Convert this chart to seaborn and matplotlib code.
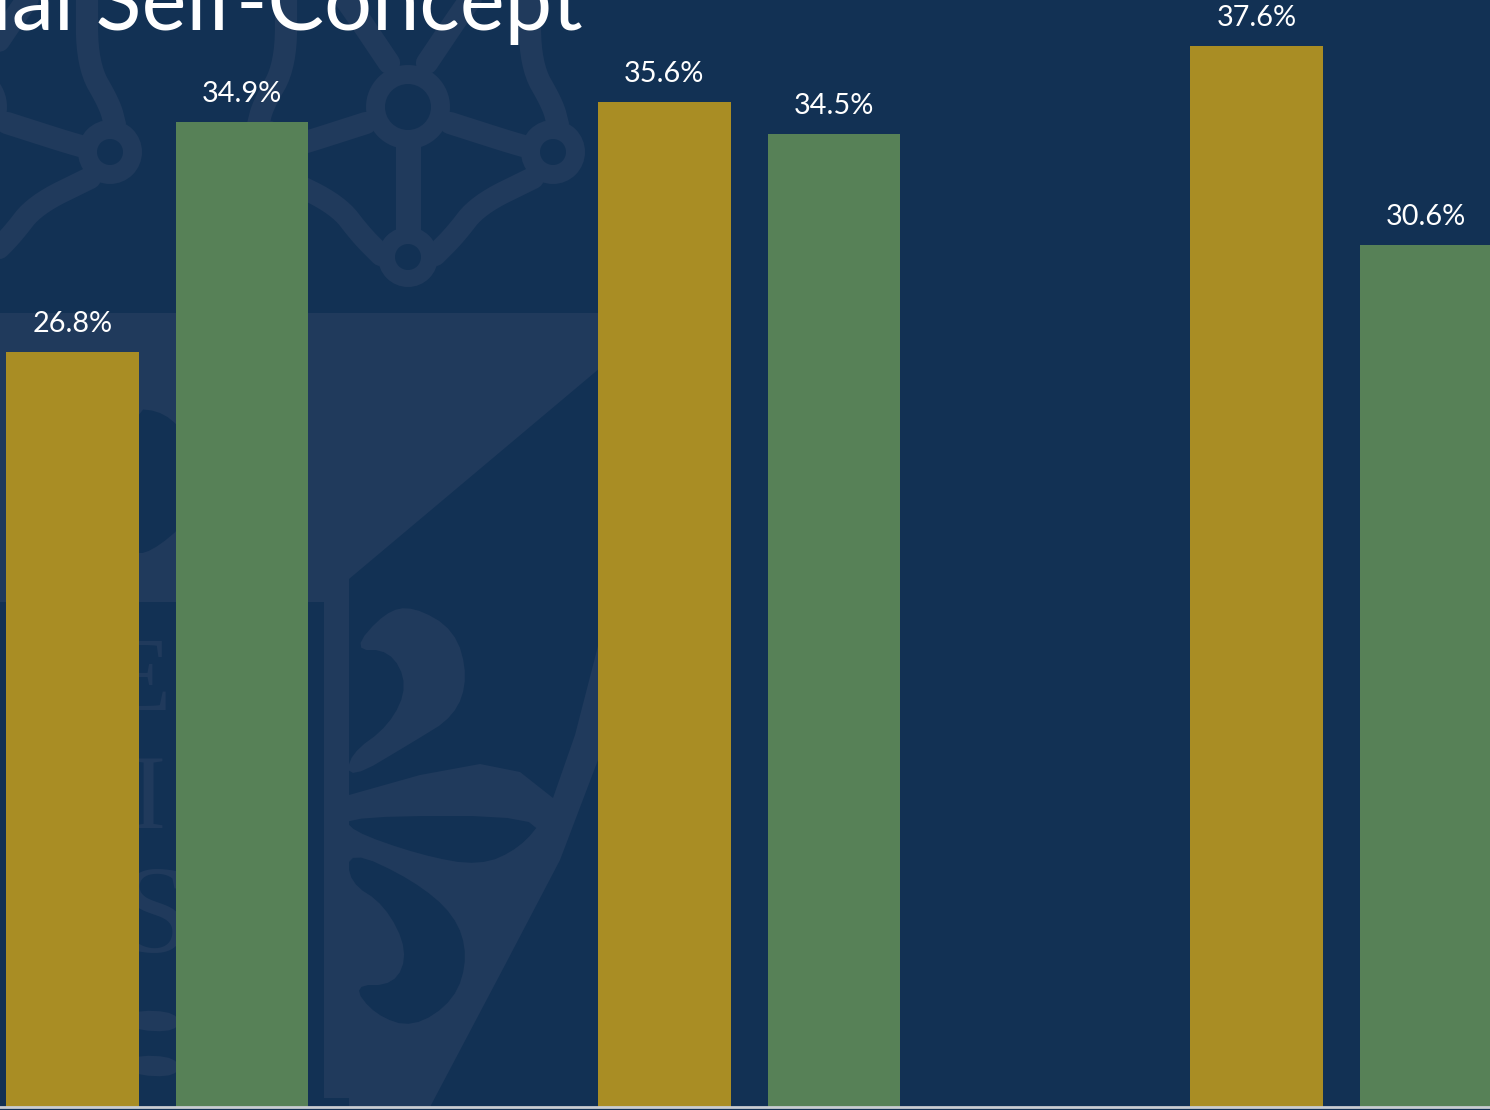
import numpy as np
import pandas as pd
import matplotlib
matplotlib.use("Agg")
import matplotlib.pyplot as plt
from matplotlib.patches import Polygon, Circle
import seaborn as sns

# values
groups = ["Group 1", "Group 2", "Group 3"]
gold_values = [26.76, 35.64, 37.62]
green_values = [34.94, 34.5, 30.56]
title = "Social Self-Concept"

navy = "#123154"
pale = "#203A5C"
gold = "#A98D24"
green = "#578157"

sns.set_theme(style="white")
plt.rcParams["font.family"] = ["Lato", "DejaVu Sans"]

df = pd.DataFrame({
    "group": groups * 2,
    "series": ["gold"] * 3 + ["green"] * 3,
    "pct": gold_values + green_values,
})

fig = plt.figure(figsize=(14.9, 11.1), dpi=100, facecolor=navy)

# backdrop: faded crest, in pixel coords of the picture
bg = fig.add_axes([0, 0, 1, 1], zorder=0)
bg.set_xlim(0, 1490)
bg.set_ylim(1110, 0)
bg.axis("off")


def soften(pts, closed=True, rounds=3):
    # corner cutting so the hand-read outlines are not jagged
    pts = np.array(pts, dtype=float)
    for _ in range(rounds):
        nxt = np.roll(pts, -1, axis=0)
        a = 0.75 * pts + 0.25 * nxt
        b = 0.25 * pts + 0.75 * nxt
        new = np.empty((len(pts) * 2, 2))
        new[0::2] = a
        new[1::2] = b
        if not closed:
            new = np.vstack([pts[0], new[:-2], pts[-1]])
        pts = new
    return pts


def crest(cx):
    for side in (1, -1):
        strokes = [
            [(19, 63), (58, 5), (70, -10)],
            [(42, 123), (117, 147), (135, 150)],
            [(150, 125), (145, 105), (122, 65), (122, -10)],
            [(125, 178), (70, 205), (47, 235), (27, 255)],
        ]
        for s in strokes:
            p = soften(s, closed=False)
            bg.plot(cx + side * p[:, 0], p[:, 1], color=pale, lw=16,
                    solid_capstyle="round", solid_joinstyle="round")
        bg.add_patch(Circle((cx + side * 145, 152), 32, fc=pale, ec="none"))
        bg.add_patch(Circle((cx + side * 145, 152), 13, fc=navy, ec="none", zorder=3))
    bg.plot([cx, cx], [125, 255], color=pale, lw=18)
    bg.add_patch(Circle((cx, 107), 42, fc=pale, ec="none"))
    bg.add_patch(Circle((cx, 107), 23, fc=navy, ec="none", zorder=3))
    bg.add_patch(Circle((cx, 257), 30, fc=pale, ec="none"))
    bg.add_patch(Circle((cx, 257), 13, fc=navy, ec="none", zorder=3))


crest(408)
crest(-35)

band = [(0, 313), (600, 313), (600, 368), (349, 579), (349, 1098), (324, 1098), (324, 602), (0, 602)]
bg.add_patch(Polygon(band, closed=True, fc=pale, ec="none"))
wedge = [(349, 795), (420, 775), (480, 764), (520, 772), (553, 798), (575, 735), (598, 646), (598, 760),
         (560, 860), (505, 965), (430, 1107), (349, 1107)]
bg.add_patch(Polygon(wedge, closed=True, fc=pale, ec="none"))

shapes = [
    ([(349, 816), (546, 816), (520, 848), (480, 866), (420, 855), (349, 830)], navy),
    ([(349, 850), (413, 880), (455, 915), (468, 956), (455, 1000), (413, 1028), (375, 1015),
      (352, 985), (395, 985), (408, 951), (385, 905), (349, 882)], navy),
    ([(352, 650), (385, 612), (413, 606), (455, 630), (468, 677), (455, 716), (413, 742),
      (349, 780), (349, 755), (390, 725), (408, 685), (390, 650)], pale),
    ([(130, 408), (165, 412), (190, 440), (190, 520), (150, 553), (130, 553)], navy),
    ([(130, 1010), (178, 1012), (178, 1032), (130, 1030)], pale),
    ([(130, 1055), (178, 1057), (178, 1077), (130, 1075)], pale),
]
for pts, col in shapes:
    bg.add_patch(Polygon(soften(pts, rounds=2), closed=True, fc=col, ec="none"))
for letter, x, y, size in zip("EIS", (171, 165, 190), (685, 803, 922), (76, 76, 90)):
    bg.text(x, y, letter, color=pale, fontsize=size, family="Liberation Serif",
            ha="right", va="center")

# the chart itself
ax = fig.add_axes([0, 3 / 1110, 1, 1107 / 1110], zorder=1)
ax.patch.set_alpha(0)
sns.barplot(data=df, x="group", y="pct", hue="series", palette={"gold": gold, "green": green},
            width=0.573, gap=0.22, legend=False, ax=ax, saturation=1, linewidth=0)
ax.set_xlim(-0.2656, 2.2513)
ax.set_ylim(0, 39.26)
ax.set_xlabel("")
ax.set_ylabel("")
ax.set_xticks([])
ax.set_yticks([])
sns.despine(ax=ax, left=True)
ax.spines["bottom"].set_color("#C9CDD2")
ax.spines["bottom"].set_linewidth(2)

for cont in ax.containers:
    ax.bar_label(cont, fmt="%.1f%%", color="white", fontsize=20.8, padding=11)

# title runs off the top of the crop
fig.text(583 / 1490, 1 - 30 / 1110, title, color="white", fontsize=61, ha="right", va="baseline", zorder=2)

fig.savefig("out.png", dpi=100, facecolor=navy)
